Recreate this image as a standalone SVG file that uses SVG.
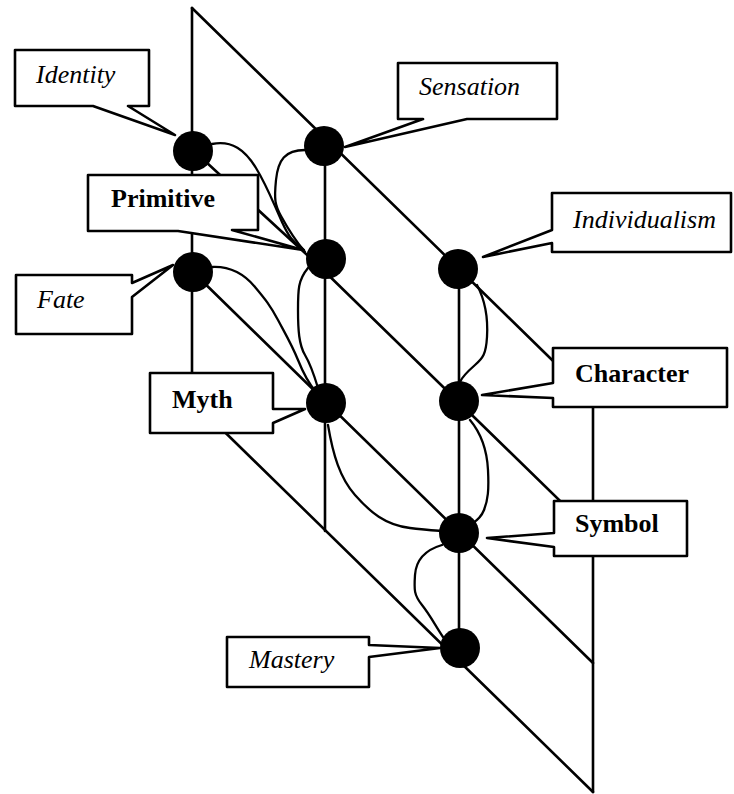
<svg xmlns="http://www.w3.org/2000/svg" width="734" height="794" viewBox="0 0 734 794">
<style>
.frame line, .frame polyline { stroke:#000; stroke-width:2.6; fill:none; stroke-linecap:round; }
.conn path { stroke:#000; stroke-width:2.3; fill:none; stroke-linecap:round; }
.callout { fill:#fff; stroke:#000; stroke-width:2.6; stroke-linejoin:round; }
.node circle { fill:#000; }
.it { font-family:"Liberation Serif", "Times New Roman", serif; font-style:italic; font-size:26px; fill:#000; }
.bd { font-family:"Liberation Serif", "Times New Roman", serif; font-weight:bold; font-size:26px; fill:#000; }
</style>
<rect width="734" height="794" fill="#fff"/>
<g id="frame" class="frame">
  <line x1="192" y1="8" x2="192" y2="400"/>
  <line x1="325" y1="138" x2="325" y2="531"/>
  <line x1="459" y1="269" x2="459" y2="661"/>
  <line x1="593" y1="400" x2="593" y2="792"/>
  <line x1="192" y1="8" x2="593" y2="400"/>
  <polyline points="193,150 318,265 593,533"/>
  <line x1="193" y1="272" x2="593" y2="663"/>
  <line x1="192" y1="400" x2="593" y2="792"/>
</g>
<g id="connectors" class="conn">
  <path d="M212,144 C232,140 245,150 256,168 S272,200 282,222 S296,242 304,250"/>
  <path d="M305,150 C285,150 278,160 276,180 S275,205 281,216 S295,240 305,252"/>
  <path d="M308,268 C298,280 298,290 298,310 S299,345 305,355 S315,378 318,388"/>
  <path d="M212,267 C232,266 245,275 255,287 S270,305 278,320 S292,345 298,360 S310,385 316,392"/>
  <path d="M328,425 C333,455 340,478 355,495 S385,525 410,528 S435,531 445,531"/>
  <path d="M470,420 C480,432 487,450 488,470 S488,500 484,510 S474,522 470,525"/>
  <path d="M477,285 C485,300 488,320 487,337 S483,358 475,365 S462,377 460,382"/>
  <path d="M442,545 C425,550 416,560 415,575 S414,595 422,605 S435,625 443,637"/>
</g>
<g id="label-identity">
  <path class="callout" d="M15,50 H149 V106 H128 L175,135 L93,106 H15 Z"/>
  <text class="it" x="36" y="83">Identity</text>
</g>
<g id="label-sensation">
  <path class="callout" d="M398,63 H557 V119 H467 L345,147 L423,119 H398 Z"/>
  <text class="it" x="419" y="95">Sensation</text>
</g>
<g id="label-individualism">
  <path class="callout" d="M552,193 H731 V252 H552 V243 L483,257 L552,230 Z"/>
  <text class="it" x="573" y="228">Individualism</text>
</g>
<g id="label-primitive">
  <path class="callout" d="M88,175 H258 V230 H232 L303,250 L178,231 H88 Z"/>
  <text class="bd" x="111" y="207">Primitive</text>
</g>
<g id="label-fate">
  <path class="callout" d="M16,275 H132 V283 L173,265 L132,297 V334 H16 Z"/>
  <text class="it" x="37" y="308">Fate</text>
</g>
<g id="label-myth">
  <path class="callout" d="M150,373 H273 V409 L305,409 L273,423 V433 H150 Z"/>
  <text class="bd" x="172" y="408">Myth</text>
</g>
<g id="label-character">
  <path class="callout" d="M553,348 H727 V407 H553 V398 L482,395 L553,383 Z"/>
  <text class="bd" x="575" y="382">Character</text>
</g>
<g id="label-symbol">
  <path class="callout" d="M554,501 H687 V556 H554 V547 L487,538 L554,533 Z"/>
  <text class="bd" x="575" y="532">Symbol</text>
</g>
<g id="label-mastery">
  <path class="callout" d="M227,637 H369 V645 L440,648 L369,657 V687 H227 Z"/>
  <text class="it" x="249" y="668">Mastery</text>
</g>
<g id="node-identity" class="node"><circle cx="193" cy="151" r="20"/></g>
<g id="node-sensation" class="node"><circle cx="324" cy="146" r="20"/></g>
<g id="node-primitive" class="node"><circle cx="326" cy="259" r="20"/></g>
<g id="node-fate" class="node"><circle cx="193" cy="272" r="20"/></g>
<g id="node-individualism" class="node"><circle cx="458" cy="269" r="20"/></g>
<g id="node-myth" class="node"><circle cx="326" cy="403" r="20"/></g>
<g id="node-character" class="node"><circle cx="459" cy="401" r="20"/></g>
<g id="node-symbol" class="node"><circle cx="459" cy="533" r="20"/></g>
<g id="node-mastery" class="node"><circle cx="460" cy="648" r="20"/></g>
</svg>
